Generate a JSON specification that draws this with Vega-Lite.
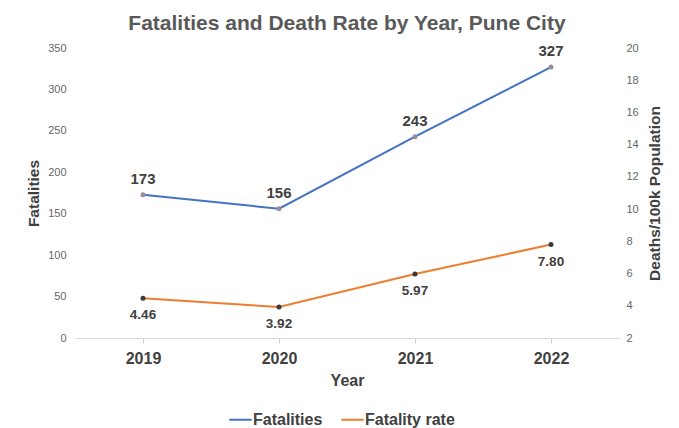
{
  "$schema": "https://vega.github.io/schema/vega-lite/v6.json",
  "width": 544,
  "height": 290,
  "autosize": {"type": "none"},
  "padding": {"left": 75, "top": 48, "right": 60, "bottom": 90},
  "background": "white",
  "config": {"view": {"stroke": null}, "font": "Liberation Sans"},
  "title": {
    "text": "Fatalities and Death Rate by Year, Pune City",
    "fontSize": 21,
    "font": "Liberation Sans",
    "fontWeight": "bold",
    "color": "#595959",
    "anchor": "middle",
    "offset": 8
  },
  "data": {
    "values": [
      {"year": "2019", "series": "Fatalities", "value": 173},
      {"year": "2020", "series": "Fatalities", "value": 156},
      {"year": "2021", "series": "Fatalities", "value": 243},
      {"year": "2022", "series": "Fatalities", "value": 327},
      {"year": "2019", "series": "Fatality rate", "value": 4.46},
      {"year": "2020", "series": "Fatality rate", "value": 3.92},
      {"year": "2021", "series": "Fatality rate", "value": 5.97},
      {"year": "2022", "series": "Fatality rate", "value": 7.80}
    ]
  },
  "encoding": {
    "x": {
      "field": "year",
      "type": "ordinal",
      "scale": {"paddingInner": 0, "paddingOuter": 0},
      "axis": {
        "title": "Year",
        "labelAngle": 0,
        "labelFontSize": 16,
        "labelFontWeight": "bold",
        "labelColor": "#404040",
        "labelPadding": 7,
        "titleFontSize": 16,
        "titleFontWeight": "bold",
        "titleColor": "#404040",
        "titlePadding": 6,
        "domainColor": "#d9d9d9",
        "domainWidth": 1,
        "tickColor": "#d0d0d0",
        "tickSize": 5,
        "bandPosition": 0,
        "grid": false
      }
    }
  },
  "layer": [
    {
      "transform": [{"filter": "datum.series === 'Fatalities'"}],
      "encoding": {
        "y": {
          "field": "value",
          "type": "quantitative",
          "scale": {"domain": [0, 350], "nice": false},
          "axis": {
            "title": "Fatalities",
            "orient": "left",
            "values": [0, 50, 100, 150, 200, 250, 300, 350],
            "grid": false,
            "domain": false,
            "ticks": false,
            "labelFontSize": 11,
            "labelColor": "#666666",
            "labelPadding": 9,
            "titleFontSize": 15.5,
            "titleFontWeight": "bold",
            "titleColor": "#404040",
            "titlePadding": 6
          }
        }
      },
      "layer": [
        {
          "mark": {"type": "line", "strokeWidth": 2},
          "encoding": {
            "color": {
              "field": "series",
              "type": "nominal",
              "scale": {"domain": ["Fatalities", "Fatality rate"], "range": ["#4472C4", "#ED7D31"]},
              "legend": {
                "title": null,
                "orient": "none",
                "direction": "horizontal",
                "legendX": 153,
                "legendY": 359,
                "labelFontSize": 16,
                "labelFontWeight": "bold",
                "labelColor": "#404040",
                "symbolType": "stroke",
                "symbolSize": 500,
                "symbolStrokeWidth": 2,
                "columnPadding": 14,
                "labelOffset": 0
              }
            }
          }
        },
        {
          "mark": {"type": "point", "filled": true, "size": 25, "color": "#9a8c9a", "opacity": 1}
        },
        {
          "mark": {"type": "text", "dy": -16, "fontSize": 15, "fontWeight": "bold", "color": "#404040"},
          "encoding": {"text": {"field": "value", "type": "quantitative", "format": "d"}}
        }
      ]
    },
    {
      "transform": [{"filter": "datum.series === 'Fatality rate'"}],
      "encoding": {
        "y": {
          "field": "value",
          "type": "quantitative",
          "scale": {"domain": [2, 20], "nice": false},
          "axis": {
            "title": "Deaths/100k Population",
            "orient": "right",
            "values": [2, 4, 6, 8, 10, 12, 14, 16, 18, 20],
            "grid": false,
            "domain": false,
            "ticks": false,
            "labelFontSize": 11,
            "labelColor": "#666666",
            "labelPadding": 7,
            "titleFontSize": 15.5,
            "titleFontWeight": "bold",
            "titleColor": "#404040",
            "titleAngle": 270,
            "titleBaseline": "top",
            "titlePadding": 9
          }
        }
      },
      "layer": [
        {
          "mark": {"type": "line", "strokeWidth": 2},
          "encoding": {
            "color": {"field": "series", "type": "nominal"}
          }
        },
        {
          "mark": {"type": "point", "filled": true, "size": 25, "color": "#3a3a3a", "opacity": 1}
        },
        {
          "mark": {"type": "text", "dy": 17, "fontSize": 13.5, "fontWeight": "bold", "color": "#404040"},
          "encoding": {"text": {"field": "value", "type": "quantitative", "format": ".2f"}}
        }
      ]
    }
  ],
  "resolve": {"scale": {"y": "independent"}}
}
